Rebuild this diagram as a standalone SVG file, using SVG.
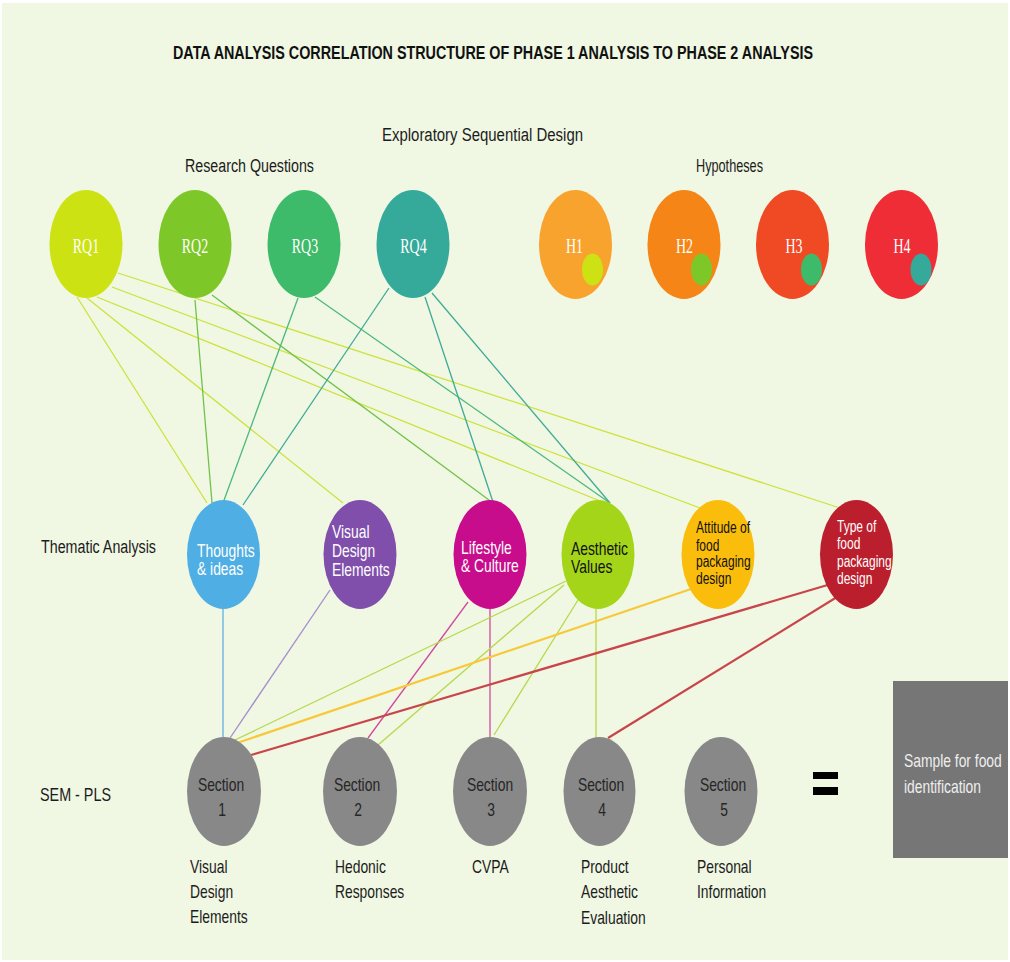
<svg xmlns="http://www.w3.org/2000/svg" width="1010" height="962" viewBox="0 0 1010 962">
<style>
.bg{fill:#f0f7e3}
.t{font-family:"Liberation Sans",Arial,sans-serif;font-size:18px;fill:#1c1c1c}
.tb{font-family:"Liberation Sans",Arial,sans-serif;font-size:18px;font-weight:bold;fill:#111}
.ser{font-family:"Liberation Serif","Times New Roman",serif;font-size:20px;fill:#ffffff;text-anchor:middle}
.nw{font-family:"Liberation Sans",Arial,sans-serif;font-size:18px;fill:#ffffff}
.nb{font-family:"Liberation Sans",Arial,sans-serif;font-size:18px;fill:#111}
.ns{font-family:"Liberation Sans",Arial,sans-serif;font-size:16px}
.sec{font-family:"Liberation Sans",Arial,sans-serif;font-size:18px;fill:#262626;text-anchor:middle}
.sc{fill:#888888}
#connectors line{fill:none;stroke-width:1.3}
.c1{stroke:#cde23a}.c2{stroke:#72c24a}.c3{stroke:#4cb97a}.c4{stroke:#3faa98}
.ct{stroke:#62b0e0}.cv{stroke:#a48ccc}.cl{stroke:#d24aa0}.ca{stroke:#b5d94a}
#connectors .cat{stroke:#f7c93a;stroke-width:2.2}
#connectors .cty{stroke:#c8454a;stroke-width:2.2}
</style>
<rect width="1010" height="962" fill="#ffffff"/>
<rect class="bg" x="2" y="3" width="1006" height="957"/>

<g id="headings">
<text class="tb" x="173" y="59" textLength="640" lengthAdjust="spacingAndGlyphs">DATA ANALYSIS CORRELATION STRUCTURE OF PHASE 1 ANALYSIS TO PHASE 2 ANALYSIS</text>
<text class="t" x="382" y="141" textLength="201" lengthAdjust="spacingAndGlyphs">Exploratory Sequential Design</text>
<text class="t" x="185" y="172" textLength="129" lengthAdjust="spacingAndGlyphs">Research Questions</text>
<text class="t" x="696" y="172" textLength="67" lengthAdjust="spacingAndGlyphs">Hypotheses</text>
<text class="t" x="41" y="553" textLength="115" lengthAdjust="spacingAndGlyphs">Thematic Analysis</text>
<text class="t" x="40" y="801" textLength="71" lengthAdjust="spacingAndGlyphs">SEM - PLS</text>
</g>

<g id="connectors">
<line class="c1" x1="77" y1="297" x2="207" y2="503"/>
<line class="c1" x1="87" y1="298" x2="343" y2="503"/>
<line class="c1" x1="97" y1="297" x2="605" y2="503"/>
<line class="c1" x1="112" y1="287" x2="700" y2="508"/>
<line class="c1" x1="118" y1="273" x2="840" y2="508"/>
<line class="c2" x1="195" y1="300" x2="212" y2="503"/>
<line class="c2" x1="212" y1="295" x2="493" y2="503"/>
<line class="c3" x1="298" y1="298" x2="223" y2="503"/>
<line class="c3" x1="315" y1="297" x2="610" y2="503"/>
<line class="c4" x1="389" y1="288" x2="243" y2="505"/>
<line class="c4" x1="425" y1="297" x2="493" y2="502"/>
<line class="c4" x1="432" y1="293" x2="610" y2="503"/>
<line class="ct" x1="223" y1="609" x2="223" y2="737"/>
<line class="cv" x1="330" y1="590" x2="230" y2="738"/>
<line class="cl" x1="468" y1="602" x2="368" y2="738"/>
<line class="cl" x1="490" y1="609" x2="490" y2="737"/>
<line class="ca" x1="566" y1="581" x2="235" y2="740"/>
<line class="ca" x1="564" y1="585" x2="378" y2="745"/>
<line class="ca" x1="578" y1="600" x2="494" y2="735"/>
<line class="ca" x1="596" y1="609" x2="596" y2="738"/>
<line class="cat" x1="691" y1="589" x2="237" y2="743"/>
<line class="cty" x1="831" y1="584" x2="251" y2="755"/>
<line class="cty" x1="837" y1="597" x2="608" y2="738"/>
</g>

<g id="rq1"><ellipse cx="86" cy="244" rx="36.5" ry="54" fill="#cde212"/><text class="ser" transform="translate(86,253) scale(0.7,1)">RQ1</text></g>
<g id="rq2"><ellipse cx="195" cy="244" rx="36.5" ry="54" fill="#7dc828"/><text class="ser" transform="translate(195,253) scale(0.7,1)">RQ2</text></g>
<g id="rq3"><ellipse cx="304" cy="244" rx="36.5" ry="54" fill="#3dbb6a"/><text class="ser" transform="translate(305,253) scale(0.7,1)">RQ3</text></g>
<g id="rq4"><ellipse cx="413" cy="244" rx="36.5" ry="54" fill="#35a99a"/><text class="ser" transform="translate(413.5,253) scale(0.7,1)">RQ4</text></g>

<g id="h1"><ellipse cx="575.5" cy="244.5" rx="36.5" ry="54.5" fill="#f8a32e"/><text class="ser" transform="translate(574.5,253) scale(0.7,1)">H1</text><ellipse cx="592.5" cy="269.5" rx="10.5" ry="16" fill="#cde212"/></g>
<g id="h2"><ellipse cx="684" cy="244.5" rx="36.5" ry="54.5" fill="#f48516"/><text class="ser" transform="translate(684.5,253) scale(0.7,1)">H2</text><ellipse cx="701.5" cy="269.5" rx="10.5" ry="16" fill="#7dc828"/></g>
<g id="h3"><ellipse cx="792.5" cy="244.5" rx="36.5" ry="54.5" fill="#ef4a24"/><text class="ser" transform="translate(794,253) scale(0.7,1)">H3</text><ellipse cx="811.5" cy="269.5" rx="10.5" ry="16" fill="#3dbb6a"/></g>
<g id="h4"><ellipse cx="901.5" cy="244.5" rx="36.5" ry="54.5" fill="#ee2d36"/><text class="ser" transform="translate(902,253) scale(0.7,1)">H4</text><ellipse cx="921" cy="269.5" rx="10.5" ry="16" fill="#35a99a"/></g>

<g id="thoughts"><ellipse cx="223.5" cy="554.5" rx="36.5" ry="54.5" fill="#4faee3"/>
<text class="nw" transform="translate(197,557) scale(0.77,1)"><tspan x="0" y="0">Thoughts</tspan><tspan x="0" dy="18">&amp; ideas</tspan></text></g>
<g id="visual"><ellipse cx="360" cy="554.5" rx="36.5" ry="54.5" fill="#7f4fab"/>
<text class="nw" transform="translate(332,538) scale(0.77,1)"><tspan x="0" y="0">Visual</tspan><tspan x="0" dy="19">Design</tspan><tspan x="0" dy="19">Elements</tspan></text></g>
<g id="lifestyle"><ellipse cx="490" cy="554.5" rx="36.5" ry="54.5" fill="#c80d8c"/>
<text class="nw" transform="translate(461,554) scale(0.77,1)"><tspan x="0" y="0">Lifestyle</tspan><tspan x="0" dy="18">&amp; Culture</tspan></text></g>
<g id="aesthetic"><ellipse cx="598" cy="554.5" rx="36.5" ry="54.5" fill="#a5d519"/>
<text class="nb" transform="translate(571,555) scale(0.77,1)"><tspan x="0" y="0">Aesthetic</tspan><tspan x="0" dy="18">Values</tspan></text></g>
<g id="attitude"><ellipse cx="718" cy="554.5" rx="36.5" ry="54.5" fill="#fbbd0b"/>
<text class="ns" fill="#111" transform="translate(696,533) scale(0.75,1)"><tspan x="0" y="0">Attitude of</tspan><tspan x="0" dy="18">food</tspan><tspan x="0" dy="16.5">packaging</tspan><tspan x="0" dy="17">design</tspan></text></g>
<g id="typeof"><ellipse cx="856.5" cy="554.5" rx="36.5" ry="54.5" fill="#bb1e2c"/>
<text class="ns" fill="#fff" transform="translate(837,532) scale(0.75,1)"><tspan x="0" y="0">Type of</tspan><tspan x="0" dy="17.5">food</tspan><tspan x="0" dy="17.5">packaging</tspan><tspan x="0" dy="17">design</tspan></text></g>

<g id="section1"><ellipse class="sc" cx="224" cy="791.5" rx="37" ry="54.5"/>
<text class="sec" transform="translate(221,791) scale(0.77,1)"><tspan x="0" y="0">Section</tspan><tspan x="1.3" dy="25">1</tspan></text>
<text class="t" transform="translate(190,873) scale(0.77,1)"><tspan x="0" y="0">Visual</tspan><tspan x="0" dy="25">Design</tspan><tspan x="0" dy="25">Elements</tspan></text></g>
<g id="section2"><ellipse class="sc" cx="360" cy="791.5" rx="37" ry="54.5"/>
<text class="sec" transform="translate(357,791) scale(0.77,1)"><tspan x="0" y="0">Section</tspan><tspan x="1.3" dy="25">2</tspan></text>
<text class="t" transform="translate(335,873) scale(0.77,1)"><tspan x="0" y="0">Hedonic</tspan><tspan x="0" dy="25">Responses</tspan></text></g>
<g id="section3"><ellipse class="sc" cx="490" cy="791.5" rx="37" ry="54.5"/>
<text class="sec" transform="translate(490,791) scale(0.77,1)"><tspan x="0" y="0">Section</tspan><tspan x="1.3" dy="25">3</tspan></text>
<text class="t" transform="translate(472,873) scale(0.77,1)">CVPA</text></g>
<g id="section4"><ellipse class="sc" cx="599.5" cy="791.5" rx="36" ry="54.5"/>
<text class="sec" transform="translate(601,791) scale(0.77,1)"><tspan x="0" y="0">Section</tspan><tspan x="1.3" dy="25">4</tspan></text>
<text class="t" transform="translate(581,873) scale(0.77,1)"><tspan x="0" y="0">Product</tspan><tspan x="0" dy="25">Aesthetic</tspan><tspan x="0" dy="26">Evaluation</tspan></text></g>
<g id="section5"><ellipse class="sc" cx="721" cy="791.5" rx="36.5" ry="54.5"/>
<text class="sec" transform="translate(723,791) scale(0.77,1)"><tspan x="0" y="0">Section</tspan><tspan x="1.3" dy="25">5</tspan></text>
<text class="t" transform="translate(697,873) scale(0.77,1)"><tspan x="0" y="0">Personal</tspan><tspan x="0" dy="25">Information</tspan></text></g>

<g id="equals"><rect x="813" y="772" width="25" height="7" fill="#000"/><rect x="813" y="787" width="25" height="8" fill="#000"/></g>

<g id="sample"><rect x="893" y="681" width="115" height="177" fill="#767676"/>
<text class="t" style="fill:#eeeeee" transform="translate(904,767) scale(0.77,1)"><tspan x="0" y="0">Sample for food</tspan><tspan x="0" dy="26">identification</tspan></text></g>
</svg>
